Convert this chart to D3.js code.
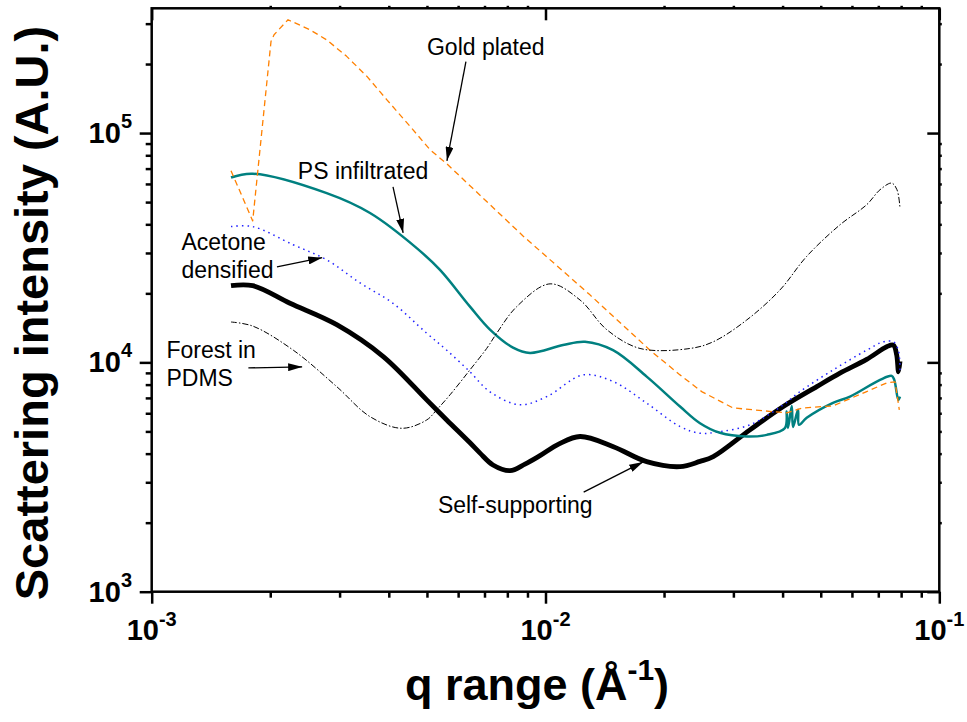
<!DOCTYPE html>
<html>
<head>
<meta charset="utf-8">
<script src="https://cdn.jsdelivr.net/npm/d3@7"></script>
<style>
  body { margin: 0; background: #fff; }
  svg { font-family: Arial, "Liberation Sans", sans-serif; }
  .tick line { stroke: #000; stroke-width: 2.5; }
  .label { font-size: 23px; fill: #000; }
  .ticklabel { font-size: 29px; font-weight: bold; fill: #000; }
  .title { font-size: 45px; font-weight: bold; fill: #000; }
</style>
</head>
<body>
<svg id="chart" width="967" height="722"></svg>
<script>
// q (1/A) and intensity (A.U.)
var selfQ = [1.59e-3, 1.805e-3, 2.245e-3, 2.95e-3, 3.873e-3, 4.993e-3, 5.613e-3, 6.431e-3, 6.82e-3,
             7.355e-3, 8.126e-3, 8.87e-3, 9.683e-3, 1.08e-2, 1.224e-2, 1.487e-2, 1.807e-2, 2.196e-2, 2.468e-2, 2.667e-2,
             3.305e-2, 4.017e-2, 4.885e-2, 5.594e-2, 6.54e-2, 7.353e-2, 7.643e-2, 7.793e-2, 7.877e-2, 7.947e-2];
var selfI = [2.16e4, 2.16e4, 1.81e4, 1.46e4, 1.06e4, 6.86e3, 5.61e3, 4.46e3, 4.02e3,
             3.57e3, 3.37e3, 3.60e3, 3.92e3, 4.40e3, 4.75e3, 4.29e3, 3.69e3, 3.51e3, 3.70e3, 3.88e3,
             5.08e3, 6.42e3, 7.84e3, 8.97e3, 1.03e4, 1.17e4, 1.19e4, 1.08e4, 9.09e3, 1.01e4];

var acetoneQ = [1.59e-3, 1.805e-3, 2.285e-3, 2.782e-3, 3.381e-3, 4.099e-3, 4.993e-3, 5.613e-3, 6.431e-3, 7.228e-3,
                8.615e-3, 1.007e-2, 1.247e-2, 1.487e-2, 1.807e-2, 2.196e-2, 2.468e-2, 2.773e-2, 3.305e-2, 4.017e-2,
                4.429e-2, 5.38e-2, 6.54e-2, 7.209e-2, 7.643e-2, 7.869e-2, 7.947e-2];
var acetoneI = [3.91e4, 3.91e4, 3.26e4, 2.80e4, 2.22e4, 1.81e4, 1.34e4, 1.13e4, 9.09e3, 7.44e3,
                6.53e3, 7.09e3, 8.82e3, 8.24e3, 6.64e3, 5.25e3, 4.91e3, 4.99e3, 5.34e3, 6.53e3,
                7.46e3, 9.28e3, 1.13e4, 1.23e4, 1.23e4, 1.13e4, 9.12e3];

var psQ = [1.59e-3, 1.805e-3, 2.782e-3, 3.584e-3, 4.709e-3, 5.396e-3, 6.431e-3, 7.228e-3, 8.27e-3, 9.134e-3,
           1.108e-2, 1.26e-2, 1.484e-2, 1.807e-2, 2.196e-2, 2.468e-2, 2.773e-2, 3.242e-2, 3.646e-2, 4.057e-2,
           4.098e-2, 4.129e-2, 4.22e-2, 4.252e-2, 4.378e-2, 4.403e-2, 4.606e-2, 5.371e-2, 5.932e-2, 7.071e-2,
           7.571e-2, 7.686e-2, 7.869e-2, 7.947e-2];
var psI = [6.40e4, 6.65e4, 5.47e4, 4.48e4, 3.15e4, 2.53e4, 1.75e4, 1.39e4, 1.16e4, 1.10e4,
           1.19e4, 1.23e4, 1.13e4, 8.67e3, 6.42e3, 5.43e3, 4.93e3, 4.75e3, 4.83e3, 5.18e3,
           6.10e3, 5.18e3, 6.46e3, 5.23e3, 6.21e3, 5.34e3, 5.73e3, 6.66e3, 7.09e3, 8.39e3,
           8.73e3, 8.39e3, 6.86e3, 7.09e3];

var goldQ = [1.59e-3, 1.805e-3, 2.009e-3, 2.045e-3, 2.219e-3, 2.523e-3, 2.782e-3, 3.127e-3, 3.516e-3, 3.951e-3,
             4.529e-3, 5.09e-3, 5.613e-3, 8.768e-3, 1.297e-2, 1.842e-2, 2.196e-2, 2.492e-2, 2.993e-2, 4.098e-2,
             4.507e-2, 5.371e-2, 6.54e-2, 7.353e-2, 7.719e-2, 7.915e-2];
var goldI = [6.85e4, 4.14e4, 2.51e5, 2.685e5, 3.12e5, 2.82e5, 2.55e5, 2.16e5, 1.77e5, 1.40e5,
             1.07e5, 8.46e4, 7.35e4, 3.56e4, 1.97e4, 1.13e4, 8.82e3, 7.46e3, 6.33e3, 6.02e3,
             6.33e3, 6.46e3, 7.46e3, 8.14e3, 8.22e3, 6.21e3];

var forestQ = [1.59e-3, 1.805e-3, 2.289e-3, 2.95e-3, 3.584e-3, 4.313e-3, 4.993e-3, 5.293e-3, 5.722e-3, 6.431e-3,
               7.089e-3, 7.518e-3, 8.45e-3, 1.027e-2, 1.224e-2, 1.43e-2, 1.738e-2, 2.328e-2, 2.667e-2, 3.242e-2,
               3.94e-2, 4.606e-2, 5.594e-2, 6.54e-2, 7.071e-2, 7.571e-2, 7.808e-2, 7.947e-2];
var forestI = [1.50e4, 1.44e4, 1.13e4, 7.84e3, 5.80e3, 5.16e3, 5.61e3, 6.21e3, 7.22e3, 9.28e3,
               1.15e4, 1.34e4, 1.75e4, 2.20e4, 1.87e4, 1.39e4, 1.15e4, 1.15e4, 1.23e4, 1.53e4,
               2.07e4, 2.90e4, 3.98e4, 4.87e4, 5.66e4, 6.05e4, 5.66e4, 4.71e4];

var xMajor = [1e-3, 1e-2, 1e-1];
var xMajorExp = ['-3', '-2', '-1'];
var yMajor = [1e3, 1e4, 1e5];
var yMajorExp = ['3', '4', '5'];

// annotation text and arrows, anchored in data space (q, I)
var noteText = [['Gold plated'], ['PS infiltrated'], ['Acetone', 'densified'], ['Forest in', 'PDMS'], ['Self-supporting']];
var noteTextAt = [[5.00e-3, 2.20e5], [2.35e-3, 6.32e4], [1.19e-3, 3.10e4], [1.09e-3, 1.04e4], [5.33e-3, 2.20e3]];
var arrowFrom = [[6.28e-3, 2.05e5], [4.10e-3, 5.83e4], [2.08e-3, 2.61e4], [1.76e-3, 9.46e3], [1.25e-2, 2.72e3]];
var arrowTo = [[5.62e-3, 7.57e4], [4.35e-3, 3.67e4], [2.71e-3, 2.86e4], [2.41e-3, 9.56e3], [1.77e-2, 3.68e3]];

var svg = d3.select('#chart');
var plotLeft = 151.7, plotRight = 939.3, plotTop = 8.3, plotBottom = 591.7;

var x = d3.scaleLog().domain([1e-3, 1e-1]).range([plotLeft, plotRight]);
var y = d3.scaleLog().domain([1e3, 3.5e5]).range([plotBottom, plotTop]);

function minorTicks(lo, hi) {
    var out = [];
    for (var d = lo; d < hi; d *= 10) {
        for (var k = 2; k <= 9; k++) {
            if (d * k < hi) out.push(d * k);
        }
    }
    return out;
}
var xMinor = minorTicks(1e-3, 1e-1);
var yMinor = minorTicks(1e3, 3.5e5);

function zip(qs, is) {
    return qs.map(function(q, i) { return {q: q, v: is[i]}; });
}

var smooth = d3.line().x(function(d) { return x(d.q); }).y(function(d) { return y(d.v); }).curve(d3.curveCatmullRom.alpha(0.5));
var straight = d3.line().x(function(d) { return x(d.q); }).y(function(d) { return y(d.v); });

var series = [
    {data: zip(selfQ, selfI), line: smooth, color: '#000', width: 4.8, dash: null},
    {data: zip(acetoneQ, acetoneI), line: smooth, color: '#2222ff', width: 1.5, dash: '1.5,4'},
    {data: zip(psQ, psI), line: smooth, color: '#008080', width: 2.5, dash: null},
    {data: zip(goldQ, goldI), line: straight, color: '#ff8000', width: 1.3, dash: '6,4'},
    {data: zip(forestQ, forestI), line: smooth, color: '#000', width: 1, dash: '6,2,1.5,2'}
];

var plot = svg.append('g');
series.forEach(function(s) {
    plot.append('path')
        .datum(s.data)
        .attr('d', s.line)
        .attr('fill', 'none')
        .attr('stroke', s.color)
        .attr('stroke-width', s.width)
        .attr('stroke-dasharray', s.dash)
        .attr('stroke-linejoin', 'round');
});

// axes: ticks only, frame drawn separately
function tickAxis(axis, values, size, tx) {
    var g = svg.append('g')
        .attr('transform', tx)
        .call(axis.tickValues(values).tickSize(size).tickFormat(''));
    g.select('.domain').remove();
    return g;
}
tickAxis(d3.axisBottom(x), xMajor, 12, 'translate(0,' + plotBottom + ')');
tickAxis(d3.axisBottom(x), xMinor, 6, 'translate(0,' + plotBottom + ')');
tickAxis(d3.axisTop(x), xMajor, -12, 'translate(0,' + plotTop + ')');
tickAxis(d3.axisTop(x), xMinor, 2.5, 'translate(0,' + plotTop + ')');
tickAxis(d3.axisLeft(y), yMajor, 12, 'translate(' + plotLeft + ',0)');
tickAxis(d3.axisLeft(y), yMinor, 6, 'translate(' + plotLeft + ',0)');
tickAxis(d3.axisRight(y), yMajor, -12, 'translate(' + plotRight + ',0)');
tickAxis(d3.axisRight(y), yMinor, 2.5, 'translate(' + plotRight + ',0)');

svg.append('rect')
    .attr('x', plotLeft).attr('y', plotTop)
    .attr('width', plotRight - plotLeft).attr('height', plotBottom - plotTop)
    .attr('fill', 'none').attr('stroke', '#000').attr('stroke-width', 2.5);

// tick labels with superscript exponents
xMajor.forEach(function(v, i) {
    var t = svg.append('text').attr('class', 'ticklabel')
        .attr('x', x(v)).attr('y', 640).attr('text-anchor', 'middle');
    t.append('tspan').text('10');
    t.append('tspan').attr('dy', -14).attr('font-size', 20).text(xMajorExp[i]);
});
yMajor.forEach(function(v, i) {
    var t = svg.append('text').attr('class', 'ticklabel')
        .attr('x', 132).attr('y', y(v) + 10).attr('text-anchor', 'end');
    t.append('tspan').text('10');
    t.append('tspan').attr('dy', -15).attr('font-size', 20).text(yMajorExp[i]);
});

// axis titles
var xt = svg.append('text').attr('class', 'title')
    .attr('x', 537).attr('y', 700).attr('text-anchor', 'middle');
xt.append('tspan').text('q range (\u00c5');
xt.append('tspan').attr('dy', -20).attr('font-size', 30).text('-1');
xt.append('tspan').attr('dy', 20).text(')');

svg.append('text').attr('class', 'title')
    .attr('transform', 'translate(48,313) rotate(-90)')
    .attr('text-anchor', 'middle')
    .style('font-size', '47px')
    .text('Scattering intensity (A.U.)');

// annotations
svg.append('defs').append('marker')
    .attr('id', 'head')
    .attr('viewBox', '0 0 14 8')
    .attr('refX', 14).attr('refY', 4)
    .attr('markerWidth', 14).attr('markerHeight', 8)
    .attr('markerUnits', 'userSpaceOnUse')
    .attr('orient', 'auto')
  .append('path')
    .attr('d', 'M0,0L14,4L0,8Z')
    .attr('fill', '#000');

noteText.forEach(function(lines, i) {
    var t = svg.append('text').attr('class', 'label')
        .attr('x', x(noteTextAt[i][0])).attr('y', y(noteTextAt[i][1]));
    lines.forEach(function(s, j) {
        t.append('tspan')
            .attr('x', x(noteTextAt[i][0]))
            .attr('dy', j === 0 ? 0 : 28)
            .text(s);
    });
    svg.append('line')
        .attr('x1', x(arrowFrom[i][0])).attr('y1', y(arrowFrom[i][1]))
        .attr('x2', x(arrowTo[i][0])).attr('y2', y(arrowTo[i][1]))
        .attr('stroke', '#000').attr('stroke-width', 1.3)
        .attr('marker-end', 'url(#head)');
});
</script>
</body>
</html>
